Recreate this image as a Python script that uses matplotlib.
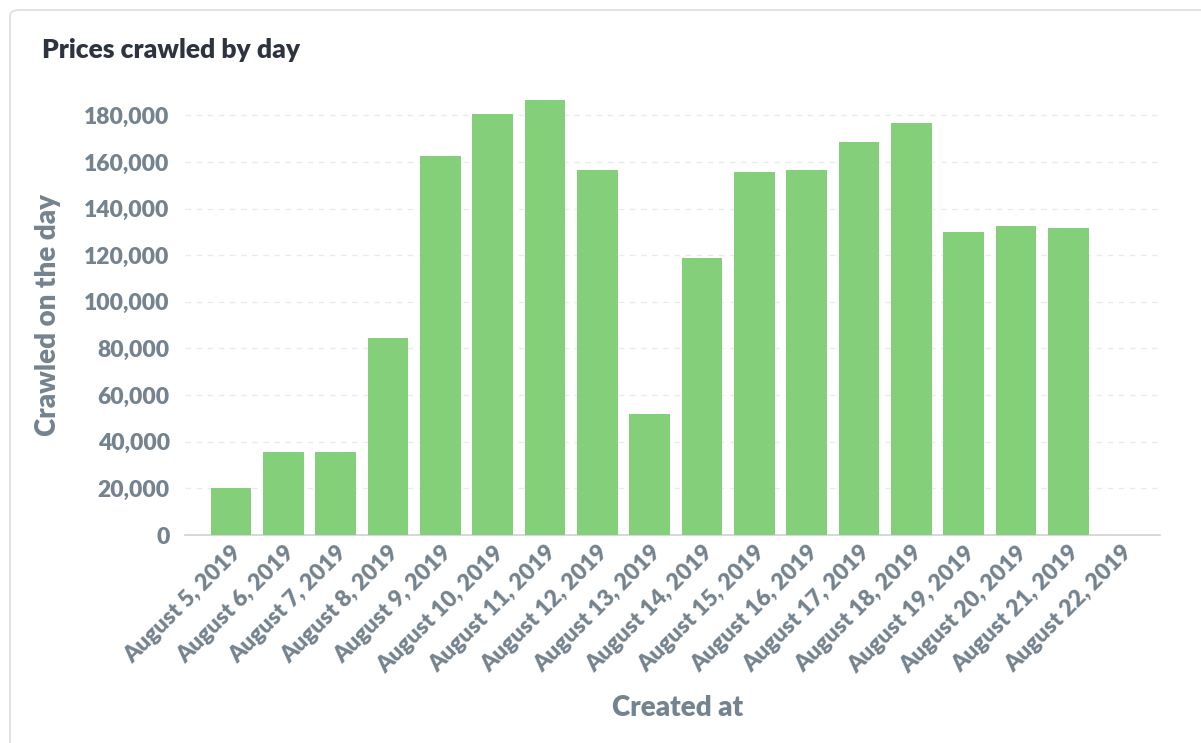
import matplotlib
matplotlib.use("Agg")
import matplotlib.pyplot as plt
from matplotlib.patches import FancyBboxPatch
from matplotlib.ticker import FuncFormatter
import numpy as np

plt.rcParams['font.family'] = ['Lato', 'DejaVu Sans']

# datos
dias = ["August %d, 2019" % d for d in range(5, 23)]
precios = [20000, 35500, 35500, 84500, 162500, 180500, 186500, 156500, 52000,
           119000, 155500, 156500, 168500, 176500, 130000, 132500, 131500, 0]
yticks = [0, 20000, 40000, 60000, 80000, 100000, 120000, 140000, 160000, 180000]

verde = "#84D07A"
gris = "#74838F"

fig = plt.figure(figsize=(12.01, 7.43), dpi=100)

# tarjeta con borde
card = FancyBboxPatch((10/1201, -0.1), 1.2, 1.1 - 10/743,
                      boxstyle="round,pad=0,rounding_size=0.008",
                      transform=fig.transFigure, facecolor="white",
                      edgecolor="#DCDFE3", linewidth=1.2, zorder=-5)
fig.patches.append(card)

ax = fig.add_axes([185/1201, 1 - 535/743, (1160 - 185)/1201, (535 - 92)/743])
ax.set_facecolor("none")
ax.set_zorder(2)

x = np.arange(len(dias))
ax.bar(x, precios, width=0.78, color=verde, zorder=3)

ax.set_xlim(-0.88, 17.75)
ax.set_ylim(0, 190000)
ax.set_yticks(yticks)
ax.yaxis.set_major_formatter(FuncFormatter(lambda v, p: f"{int(v):,}"))
ax.set_xticks(x)
ax.set_xticklabels(dias, rotation=45, ha="right", rotation_mode="anchor")

for v in yticks[1:]:
    ax.axhline(v, color="#E8EBEE", linewidth=1, linestyle=(0, (4, 4)), zorder=1)

for s in ["top", "right", "left"]:
    ax.spines[s].set_visible(False)
ax.spines["bottom"].set_color("#CDD2D6")
ax.spines["bottom"].set_linewidth(1.2)

ax.tick_params(axis="y", length=0, pad=11, labelsize=16.5, labelcolor=gris)
ax.tick_params(axis="x", length=0, pad=5, labelsize=16.5, labelcolor=gris)
for lab in ax.get_yticklabels() + ax.get_xticklabels():
    lab.set_fontweight("heavy")

ax.set_ylabel("Crawled on the day", fontsize=20, fontweight="heavy", color=gris)
ax.set_xlabel("Created at", fontsize=20, fontweight="heavy", color=gris)
ax.yaxis.set_label_coords(-0.1405, 0.497)
ax.xaxis.set_label_coords(0.505, -0.39)
ax.xaxis.label.set_va("center")
ax.yaxis.label.set_va("center")

fig.text(42/1201, 1 - 50/743, "Prices crawled by day", fontsize=19,
         fontweight="heavy", color="#2E3340", va="center", ha="left")

fig.savefig("out.png", dpi=100)
